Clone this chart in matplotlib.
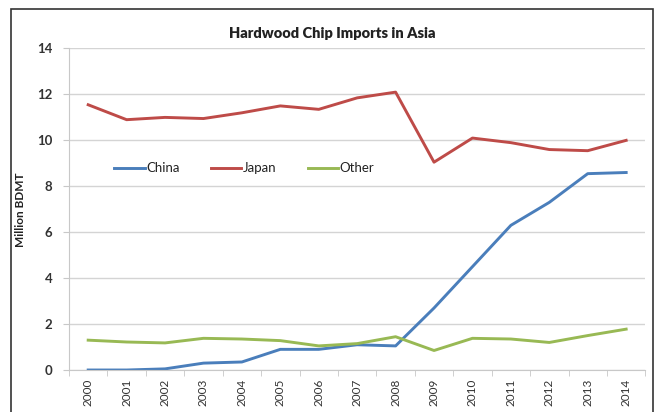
import matplotlib
matplotlib.use('Agg')
import matplotlib.pyplot as plt
from matplotlib.patches import Rectangle

plt.rcParams['font.family'] = ['Lato', 'DejaVu Sans']

YEARS = [str(y) for y in range(2000, 2015)]
CHINA = [0.0, 0.0, 0.05, 0.3, 0.35, 0.9, 0.9, 1.1, 1.05, 2.7, 4.5, 6.3, 7.3, 8.55, 8.6]
JAPAN = [11.55, 10.9, 11.0, 10.95, 11.2, 11.5, 11.35, 11.85, 12.1, 9.05, 10.1, 9.9, 9.6, 9.55, 10.0]
OTHER = [1.3, 1.22, 1.18, 1.38, 1.35, 1.28, 1.05, 1.15, 1.45, 0.85, 1.38, 1.35, 1.2, 1.5, 1.78]
Y_TICKS = [0, 2, 4, 6, 8, 10, 12, 14]

SERIES = [
    ('China', CHINA, '#4a7ebb'),
    ('Japan', JAPAN, '#be4b48'),
    ('Other', OTHER, '#98b954'),
]

fig = plt.figure(figsize=(6.55, 4.12), dpi=100)
ax = fig.add_axes([0.1053, 0.1019, 0.880, 0.7804])

# outer chart frame, bottom edge runs off the canvas
fig.patches.append(Rectangle((11 / 655, -0.05), 642 / 655, 1.05 - 9 / 412,
                             transform=fig.transFigure, fill=False,
                             edgecolor='#333333', linewidth=1.2))

x = list(range(len(YEARS)))
for name, vals, color in SERIES:
    ax.plot(x, vals, color=color, linewidth=2.1, label=name, solid_joinstyle='round')

ax.set_xlim(-0.5, len(YEARS) - 0.5)
ax.set_ylim(0, 14)
ax.set_yticks(Y_TICKS)
ax.set_yticklabels([str(t) for t in Y_TICKS], fontsize=9.5, fontweight='bold', color='#333333')
ax.set_xticks(x)
ax.set_xticklabels(YEARS, rotation=90, fontsize=8.5, color='#333333')
ax.set_xticks([i - 0.5 for i in range(len(YEARS) + 1)], minor=True)
ax.tick_params(axis='x', which='major', length=0, pad=6)
ax.tick_params(axis='x', which='minor', length=4, color='#c8c8c8')
ax.tick_params(axis='y', length=4, color='#c8c8c8', pad=8)

ax.grid(axis='y', color='#d4d4d4', linewidth=1.0)
ax.set_axisbelow(True)
for side in ('top', 'right'):
    ax.spines[side].set_visible(False)
for side in ('left', 'bottom'):
    ax.spines[side].set_color('#c8c8c8')

ax.set_ylabel('Million BDMT', fontsize=8.5, fontweight='bold', color='#222222', labelpad=8)
fig.text(0.507, 0.918, 'Hardwood Chip Imports in Asia', ha='center', va='center',
         fontsize=10.5, fontweight='heavy', color='#222222')

leg = ax.legend(loc='center left', bbox_to_anchor=(0.058, 0.627), ncol=3, frameon=False,
                fontsize=9.5, handlelength=2.3, handletextpad=0.1, columnspacing=2.4)
for t in leg.get_texts():
    t.set_color('#222222')

fig.savefig('out.png', dpi=100)
